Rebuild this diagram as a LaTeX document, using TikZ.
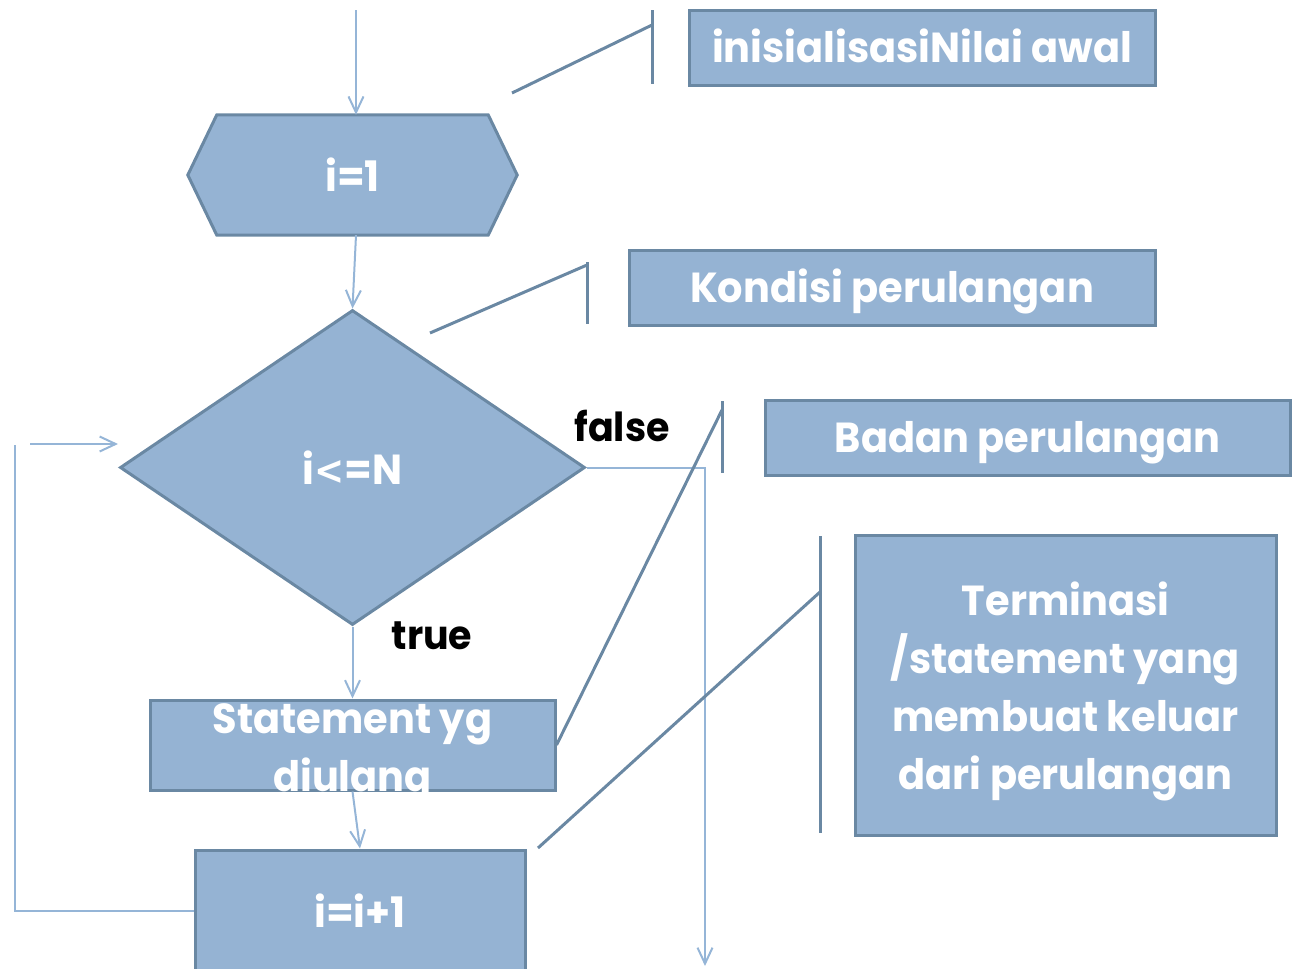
\documentclass[tikz,border=0pt]{standalone}
\usepackage{fontspec}
\setmainfont{Poppins}[FakeStretch=0.95]
\newfontfamily\ltfont{DejaVu Sans}[FakeStretch=0.9]
\usetikzlibrary{arrows.meta,shapes.geometric,backgrounds}
\definecolor{boxfill}{RGB}{149,179,211}
\definecolor{boxline}{RGB}{106,136,163}
\definecolor{connc}{RGB}{149,181,215}
\begin{document}
\begin{tikzpicture}[x=1pt,y=-1pt,
  shapebox/.style={fill=boxfill,draw=boxline,line width=3pt,inner sep=0pt},
  lbl/.style={text=white,font=\bfseries\fontsize{42}{58}\selectfont,align=center},
  oneline/.style={text height=29.5pt,text depth=0pt},
  conn/.style={draw=connc,line width=2pt,-{Straight Barb[length=16pt,width=15pt]}},
  connline/.style={draw=connc,line width=2pt},
  callout/.style={draw=boxline,line width=3pt},
  tf/.style={font=\bfseries\fontsize{40}{44}\selectfont,text=black,inner sep=0pt}]
\useasboundingbox (0,0) rectangle (1296,969);

% hexagon i=1
\node[lbl,minimum width=329pt,minimum height=120pt,inner sep=0pt] (hex) at (352.5,175) {i=1};
\begin{scope}[on background layer]
\path[shapebox] ([xshift=29pt]hex.north west) -- ([xshift=-29pt]hex.north east) -- (hex.east)
  -- ([xshift=-29pt]hex.south east) -- ([xshift=29pt]hex.south west) -- (hex.west) -- cycle;
\end{scope}

% decision
\node[shapebox,diamond,aspect=1.476,minimum width=465pt,minimum height=315pt,lbl] (dia) at (352.5,467.5) {i{\ltfont\bfseries\fontsize{40}{58}\selectfont<}=N};

% statement box
\node[shapebox,minimum width=405pt,minimum height=90pt] (stmt) at (352.5,745) {};
\begin{scope}
\clip ([xshift=-2pt,yshift=2pt]stmt.north west) rectangle ([xshift=2pt,yshift=-1.5pt]stmt.south east);
\node[lbl] (stmtlbl) at (352.5,753) {Statement yg\\diulang};
\end{scope}

% increment
\node[shapebox,minimum width=330pt,minimum height=122pt,lbl] (inc) at (360,911) {i=i+1};

% labels
\node[tf] (lfalse) at (622,426) {false};
\node[tf] (ltrue) at (432,636) {true};

% callout boxes
\node[shapebox,minimum width=466pt,minimum height=75pt,lbl,oneline] (c1) at (922,47.5) {inisialisasiNilai awal};
\node[shapebox,minimum width=526pt,minimum height=75pt,lbl,oneline] (c2) at (892,287.5) {Kondisi perulangan};
\node[shapebox,minimum width=525pt,minimum height=75pt,lbl,oneline] (c3) at (1027.5,437.5) {Badan perulangan};
\node[shapebox,minimum width=421pt,minimum height=300pt] (c4) at (1065.5,685) {};
\node[lbl] (c4lbl) at (1065.5,691) {Terminasi\\/statement yang\\membuat keluar\\dari perulangan};

% coordinates
\coordinate (start) at (356,10);
\coordinate (exit) at (705,966);
\coordinate (loopc) at (15,445);
\coordinate (loopa) at (30,444);
\coordinate (loopb) at (118,444);
\coordinate (b1t) at (652,10);
\coordinate (b1b) at (652,84);
\coordinate (d1a) at (512,93);
\coordinate (d1b) at (652,25);
\coordinate (b2t) at (587,262);
\coordinate (b2b) at (587,324);
\coordinate (d2a) at (430,333);
\coordinate (d2b) at (587,265);
\coordinate (b3t) at (722,401);
\coordinate (b3b) at (722,473);
\coordinate (d3b) at (722,410);
\coordinate (b4t) at (820,536);
\coordinate (b4b) at (820,833);
\coordinate (d4a) at (538,848);
\coordinate (d4b) at (820,592);

% connectors
\draw[conn] (start) -- ([xshift=3.5pt]hex.north);
\draw[conn] ([xshift=3.5pt]hex.south) -- (dia.north);
\draw[conn] (dia.south) -- (stmt.north);
\draw[conn] (stmt.south) -- (inc.north);
\draw[conn] (dia.east) -| (exit);
\draw[connline] (inc.west) -| (loopc);
\draw[conn] (loopa) -- (loopb);

% callout lines
\draw[callout] (b1t) -- (b1b);
\draw[callout] (d1a) -- (d1b);
\draw[callout] (b2t) -- (b2b);
\draw[callout] (d2a) -- (d2b);
\draw[callout] (b3t) -- (b3b);
\draw[callout] (stmt.east) -- (d3b);
\draw[callout] (b4t) -- (b4b);
\draw[callout] (d4a) -- (d4b);
\end{tikzpicture}
\end{document}
